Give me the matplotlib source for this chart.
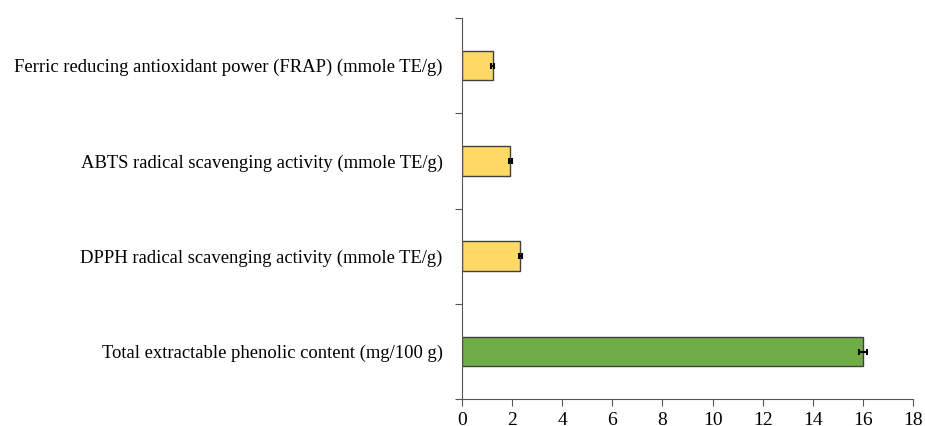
import numpy as np
import matplotlib.pyplot as plt

plt.rcParams['font.family'] = ['Liberation Serif', 'DejaVu Serif']

labels = ["Total extractable phenolic content (mg/100 g)",
          "DPPH radical scavenging activity (mmole TE/g)",
          "ABTS radical scavenging activity (mmole TE/g)",
          "Ferric reducing antioxidant power (FRAP) (mmole TE/g)"]
values = [16.0, 2.33, 1.93, 1.22]
errors = [0.15, 0.06, 0.07, 0.05]
colors = ["#70AD47", "#FFD966", "#FFD966", "#FFD966"]

fig = plt.figure(figsize=(9.25, 4.26), dpi=100)
ax = fig.add_axes([0.4995, 0.063, 0.4876, 0.895])

y = np.arange(len(labels))
ax.barh(y, values, height=0.31, color=colors, edgecolor="#404040", linewidth=1,
        xerr=errors, error_kw=dict(ecolor="black", capsize=2.5, elinewidth=1.5, capthick=1.5))

ax.set_xlim(0, 18)
ax.set_ylim(-0.5, 3.5)
ax.set_xticks(np.arange(0, 19, 2))
ax.set_yticks(np.arange(-0.5, 4, 1))
ax.set_yticklabels([])
ax.set_yticks(y, minor=True)
ax.set_yticklabels(labels, minor=True, fontsize=13.4)
ax.tick_params(axis='y', which='minor', length=0, pad=14)
ax.tick_params(axis='y', which='major', length=5, color="#555555")
ax.tick_params(axis='x', length=5, color="#555555", labelsize=14, pad=4)
for s in ['top', 'right']:
    ax.spines[s].set_visible(False)
for s in ['left', 'bottom']:
    ax.spines[s].set_color("#555555")

fig.savefig("out.png", dpi=100)
